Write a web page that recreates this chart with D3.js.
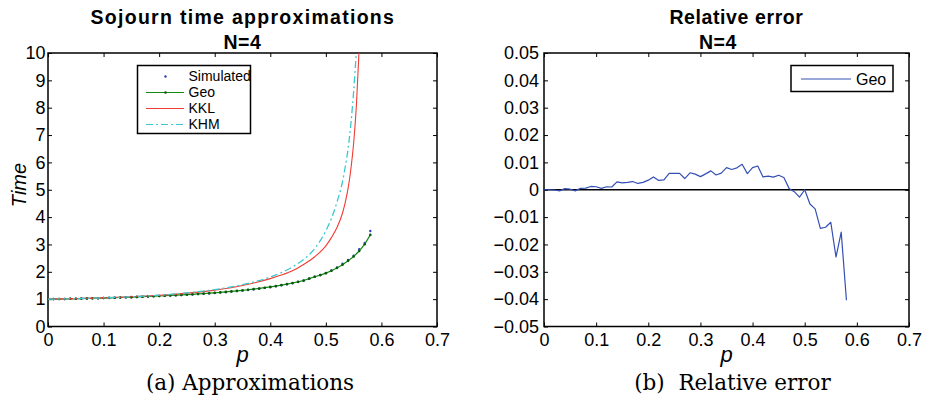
<!DOCTYPE html>
<html lang="en">
<head>
<meta charset="utf-8">
<title>Sojourn time approximations</title>
<script src="https://d3js.org/d3.v7.min.js"></script>
<style>
  body { margin: 0; background: #fff; }
  svg text { font-family: "Liberation Sans", Arial, sans-serif; fill: #000; }
  .tick line { stroke: #000; stroke-width: 1; }
  .tick text { font-size: 18px; }
  .title { font-size: 19.5px; font-weight: bold; letter-spacing: 0.6px; }
  .caption { font-family: "DejaVu Serif", serif; font-size: 21.5px; }
</style>
</head>
<body>
<svg id="chart"></svg>
<script>
var width = 929, height = 402;

// p grid used by the simulation / Geo approximation
var pSteps = [0, 0.01, 0.02, 0.03, 0.04, 0.05, 0.06, 0.07, 0.08, 0.09,
  0.10, 0.11, 0.12, 0.13, 0.14, 0.15, 0.16, 0.17, 0.18, 0.19,
  0.20, 0.21, 0.22, 0.23, 0.24, 0.25, 0.26, 0.27, 0.28, 0.29,
  0.30, 0.31, 0.32, 0.33, 0.34, 0.35, 0.36, 0.37, 0.38, 0.39,
  0.40, 0.41, 0.42, 0.43, 0.44, 0.45, 0.46, 0.47, 0.48, 0.49,
  0.50, 0.51, 0.52, 0.53, 0.54, 0.55, 0.56, 0.57, 0.58];

var simulated = [1.000, 1.002, 1.005, 1.008, 1.012, 1.016, 1.020, 1.024, 1.029, 1.034,
  1.040, 1.046, 1.052, 1.059, 1.064, 1.071, 1.079, 1.087, 1.095, 1.103,
  1.111, 1.119, 1.130, 1.140, 1.148, 1.159, 1.171, 1.185, 1.196, 1.210,
  1.226, 1.241, 1.256, 1.276, 1.294, 1.311, 1.334, 1.356, 1.379, 1.411,
  1.436, 1.466, 1.506, 1.542, 1.583, 1.625, 1.674, 1.749, 1.821, 1.885,
  1.950, 2.051, 2.155, 2.292, 2.433, 2.591, 2.830, 3.057, 3.491];

var geo = [1.000, 1.002, 1.005, 1.008, 1.012, 1.016, 1.020, 1.025, 1.030, 1.035,
  1.041, 1.047, 1.053, 1.060, 1.067, 1.074, 1.082, 1.090, 1.098, 1.106,
  1.115, 1.124, 1.134, 1.144, 1.155, 1.166, 1.178, 1.190, 1.203, 1.217,
  1.232, 1.248, 1.265, 1.283, 1.302, 1.322, 1.344, 1.367, 1.392, 1.419,
  1.448, 1.479, 1.513, 1.550, 1.590, 1.634, 1.682, 1.750, 1.820, 1.880,
  1.950, 2.040, 2.140, 2.260, 2.400, 2.560, 2.760, 3.010, 3.350];

var relError = [0.0000, 0.0000, -0.0001, -0.0004, 0.0004, 0.0002, -0.0004, 0.0005, 0.0006, 0.0012,
  0.0011, 0.0005, 0.0011, 0.0010, 0.0029, 0.0025, 0.0027, 0.0030, 0.0023, 0.0027,
  0.0035, 0.0047, 0.0034, 0.0036, 0.0060, 0.0060, 0.0060, 0.0041, 0.0062, 0.0057,
  0.0048, 0.0058, 0.0069, 0.0054, 0.0061, 0.0081, 0.0074, 0.0080, 0.0093, 0.0059,
  0.0081, 0.0087, 0.0047, 0.0050, 0.0046, 0.0053, 0.0045, 0.0005, -0.0007, -0.0027,
  0.0000, -0.0052, -0.0070, -0.0141, -0.0137, -0.0119, -0.0246, -0.0155, -0.0404];

// analytic approximations (blow up near p = 0.56)
var kklP = [0, 0.05, 0.10, 0.15, 0.20, 0.25, 0.30, 0.35, 0.40, 0.42, 0.44, 0.46,
  0.48, 0.50, 0.51, 0.52, 0.53, 0.535, 0.54, 0.545, 0.55, 0.555, 0.56];
var kkl = [1.000, 1.018, 1.045, 1.085, 1.140, 1.220, 1.330, 1.500, 1.750, 1.880, 2.040, 2.270,
  2.550, 2.950, 3.250, 3.620, 4.150, 4.550, 5.050, 5.750, 6.700, 8.100, 10.200];

var khmP = [0, 0.05, 0.10, 0.15, 0.20, 0.25, 0.30, 0.35, 0.40, 0.42, 0.44, 0.46,
  0.48, 0.50, 0.51, 0.52, 0.53, 0.535, 0.54, 0.545, 0.55, 0.555];
var khm = [1.000, 1.018, 1.046, 1.088, 1.145, 1.230, 1.350, 1.530, 1.810, 1.970, 2.180, 2.450,
  2.850, 3.500, 3.950, 4.550, 5.300, 5.850, 6.500, 7.400, 8.600, 10.100];

var pTicks = [0, 0.1, 0.2, 0.3, 0.4, 0.5, 0.6, 0.7];
var timeTicks = [0, 1, 2, 3, 4, 5, 6, 7, 8, 9, 10];
var errTicks = [-0.05, -0.04, -0.03, -0.02, -0.01, 0, 0.01, 0.02, 0.03, 0.04, 0.05];

var colors = { sim: "#2a3fc0", geo: "#138a13", kkl: "#f03c32", khm: "#3cc8cf", err: "#3550b4" };

var svg = d3.select("#chart").attr("width", width).attr("height", height);

function panel(id, box, yDomain, yTicks, yFmt, yPad) {
  var x = d3.scaleLinear().domain([0, 0.7]).range([box.left, box.right]);
  var y = d3.scaleLinear().domain(yDomain).range([box.bottom, box.top]);
  var g = svg.append("g");

  g.append("clipPath").attr("id", id)
    .append("rect")
    .attr("x", box.left).attr("y", box.top)
    .attr("width", box.right - box.left).attr("height", box.bottom - box.top);

  var xf = function (d) { return d === 0 ? "0" : d3.format(".1f")(d); };
  g.append("g").attr("transform", "translate(0," + box.bottom + ")")
    .call(d3.axisBottom(x).tickValues(pTicks).tickFormat(xf).tickSizeInner(-4).tickSizeOuter(0).tickPadding(6.5));
  g.append("g").attr("transform", "translate(0," + box.top + ")")
    .call(d3.axisTop(x).tickValues(pTicks).tickFormat("").tickSizeInner(-4).tickSizeOuter(0));
  g.append("g").attr("transform", "translate(" + box.left + ",0)")
    .call(d3.axisLeft(y).tickValues(yTicks).tickFormat(yFmt).tickSizeInner(-4).tickSizeOuter(0).tickPadding(yPad));
  g.append("g").attr("transform", "translate(" + box.right + ",0)")
    .call(d3.axisRight(y).tickValues(yTicks).tickFormat("").tickSizeInner(-4).tickSizeOuter(0));
  g.selectAll(".domain").remove();
  g.selectAll(".tick text").attr("font-family", null);

  g.append("rect")
    .attr("x", box.left).attr("y", box.top)
    .attr("width", box.right - box.left).attr("height", box.bottom - box.top)
    .attr("fill", "none").attr("stroke", "#000").attr("stroke-width", 1.5);

  var plot = g.append("g").attr("clip-path", "url(#" + id + ")");
  return { x: x, y: y, g: g, plot: plot };
}

// ---------- left: sojourn time approximations ----------
var left = panel("clipA", { left: 48, right: 437, top: 53, bottom: 326.5 }, [0, 10], timeTicks,
  function (d) { return String(d); }, 2.5);

var simPts = pSteps.map(function (p, i) { return [p, simulated[i]]; });
var geoPts = pSteps.map(function (p, i) { return [p, geo[i]]; });
var kklPts = kklP.map(function (p, i) { return [p, kkl[i]]; });
var khmPts = khmP.map(function (p, i) { return [p, khm[i]]; });

var lineA = d3.line().x(function (d) { return left.x(d[0]); }).y(function (d) { return left.y(d[1]); });
var smoothA = d3.line().curve(d3.curveMonotoneX)
  .x(function (d) { return left.x(d[0]); }).y(function (d) { return left.y(d[1]); });

left.plot.selectAll(".sim").data(simPts).enter().append("circle")
  .attr("cx", function (d) { return left.x(d[0]); })
  .attr("cy", function (d) { return left.y(d[1]); })
  .attr("r", 1.2).attr("fill", colors.sim);

left.plot.append("path").datum(geoPts).attr("d", lineA)
  .attr("fill", "none").attr("stroke", colors.geo).attr("stroke-width", 1.2);
left.plot.selectAll(".geo").data(geoPts).enter().append("circle")
  .attr("cx", function (d) { return left.x(d[0]); })
  .attr("cy", function (d) { return left.y(d[1]); })
  .attr("r", 1.3).attr("fill", "#0b5a0b");

left.plot.append("path").datum(kklPts).attr("d", smoothA)
  .attr("fill", "none").attr("stroke", colors.kkl).attr("stroke-width", 1.1);
left.plot.append("path").datum(khmPts).attr("d", smoothA)
  .attr("fill", "none").attr("stroke", colors.khm).attr("stroke-width", 1.3)
  .attr("stroke-dasharray", "7,3,2,3");

// titles & labels
left.g.append("text").attr("class", "title").attr("x", 242.5).attr("y", 24)
  .attr("text-anchor", "middle").attr("textLength", 304).attr("lengthAdjust", "spacing")
  .text("Sojourn time approximations");
left.g.append("text").attr("class", "title").attr("x", 242.5).attr("y", 48.5)
  .attr("text-anchor", "middle").text("N=4");
left.g.append("text").attr("x", 242.5).attr("y", 362).attr("text-anchor", "middle")
  .style("font-size", "22px").style("font-style", "italic").text("p");
left.g.append("text").attr("transform", "translate(26,185) rotate(-90)").attr("text-anchor", "middle")
  .style("font-size", "20px").style("font-style", "italic").text("Time");
left.g.append("text").attr("class", "caption").attr("x", 250).attr("y", 390)
  .attr("text-anchor", "middle").text("(a) Approximations");

// legend
var legA = left.g.append("g");
legA.append("rect").attr("x", 137.5).attr("y", 65.5).attr("width", 113).attr("height", 68)
  .attr("fill", "#fff").attr("stroke", "#000").attr("stroke-width", 1.5);
var legItems = ["Simulated", "Geo", "KKL", "KHM"];
legItems.forEach(function (name, i) {
  var yy = 76.5 + i * 16;
  if (name === "Simulated") {
    legA.append("circle").attr("cx", 165.5).attr("cy", yy).attr("r", 1.2).attr("fill", colors.sim);
  } else {
    var ln = legA.append("line").attr("x1", 146).attr("x2", 184).attr("y1", yy).attr("y2", yy)
      .attr("stroke-width", 1.2);
    if (name === "Geo") {
      ln.attr("stroke", colors.geo);
      legA.append("circle").attr("cx", 165.5).attr("cy", yy).attr("r", 1.3).attr("fill", "#0b5a0b");
    } else if (name === "KKL") {
      ln.attr("stroke", colors.kkl);
    } else {
      ln.attr("stroke", colors.khm).attr("stroke-dasharray", "7,3,2,3");
    }
  }
  legA.append("text").attr("x", 188.5).attr("y", yy + 4.8).style("font-size", "14px").text(name);
});

// ---------- right: relative error ----------
var errFmt = function (d) {
  if (Math.abs(d) < 1e-9) return "0";
  var s = d3.format(".2f")(Math.abs(d));
  return d < 0 ? "\u2212" + s : s;
};
var right = panel("clipB", { left: 544, right: 909, top: 53, bottom: 326.5 }, [-0.05, 0.05], errTicks,
  errFmt, 5);

right.plot.append("line")
  .attr("x1", right.x(0)).attr("x2", right.x(0.7))
  .attr("y1", right.y(0)).attr("y2", right.y(0))
  .attr("stroke", "#000").attr("stroke-width", 1.3);

var errPts = pSteps.map(function (p, i) { return [p, relError[i]]; });
var lineB = d3.line().x(function (d) { return right.x(d[0]); }).y(function (d) { return right.y(d[1]); });
right.plot.append("path").datum(errPts).attr("d", lineB)
  .attr("fill", "none").attr("stroke", colors.err).attr("stroke-width", 1.2)
  .attr("stroke-linejoin", "round");

right.g.append("text").attr("class", "title").attr("x", 736.5).attr("y", 24)
  .attr("text-anchor", "middle").text("Relative error");
right.g.append("text").attr("class", "title").attr("x", 718).attr("y", 48.5)
  .attr("text-anchor", "middle").text("N=4");
right.g.append("text").attr("x", 726.5).attr("y", 362).attr("text-anchor", "middle")
  .style("font-size", "22px").style("font-style", "italic").text("p");
right.g.append("text").attr("class", "caption").attr("x", 732.5).attr("y", 390)
  .attr("text-anchor", "middle").attr("xml:space", "preserve").style("white-space", "pre")
  .text("(b)  Relative error");

var legB = right.g.append("g");
legB.append("rect").attr("x", 791).attr("y", 65.5).attr("width", 102).attr("height", 26)
  .attr("fill", "#fff").attr("stroke", "#000").attr("stroke-width", 1.5);
legB.append("line").attr("x1", 801).attr("x2", 851).attr("y1", 79).attr("y2", 79)
  .attr("stroke", colors.err).attr("stroke-width", 1.2);
legB.append("text").attr("x", 856).attr("y", 85).style("font-size", "16px").text("Geo");
</script>
</body>
</html>
